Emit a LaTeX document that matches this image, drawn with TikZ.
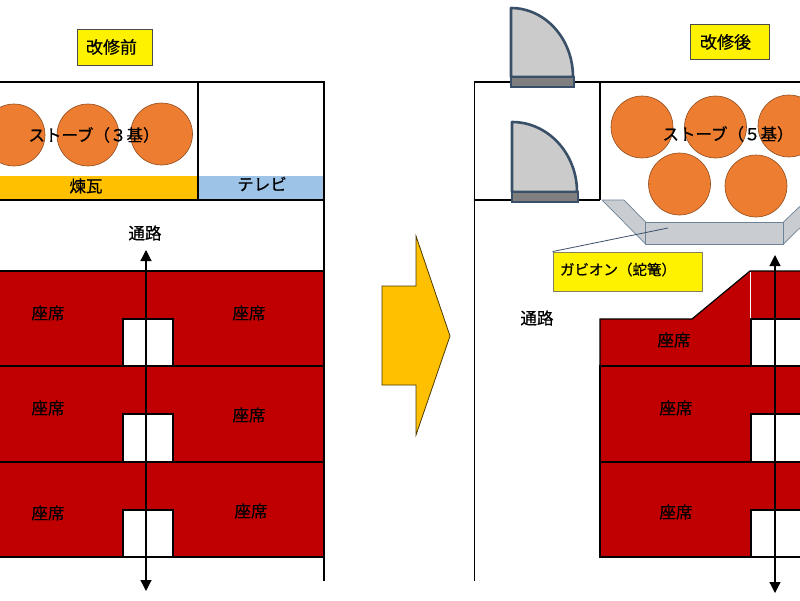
\documentclass[tikz,border=0pt]{standalone}
\usepackage{fontspec}
\setmainfont[FakeBold=0.6]{Noto Sans CJK JP}
\definecolor{seatred}{HTML}{C00000}
\definecolor{stove}{HTML}{ED7D31}
\definecolor{amber}{HTML}{FFC000}
\definecolor{tvblue}{HTML}{9DC3E6}
\definecolor{doorline}{HTML}{3A5068}
\definecolor{doorfill}{HTML}{CBCBCB}
\definecolor{doorbar}{HTML}{7F7F7F}
\definecolor{gabion}{HTML}{C9CDD2}
\definecolor{gabline}{HTML}{6C8296}
\tikzset{
  wall/.style={draw=black,line width=1.3pt},
  seat/.style={fill=seatred,draw=black,line width=1.2pt},
  gapbox/.style={fill=white,draw=black,line width=1.2pt},
  stovecirc/.style={circle,fill=stove,draw=stove!60!black,line width=0.6pt,minimum size=62pt,inner sep=0pt},
  tag/.style={fill=yellow,draw=black!70,line width=0.9pt,inner sep=0pt,font=\fontsize{17}{17}\selectfont},
  lab/.style={inner sep=0pt,font=\fontsize{16.5}{17}\selectfont},
  walk/.style={draw=black,line width=1.2pt,{Triangle[length=11pt,width=11pt]}-{Triangle[length=11pt,width=11pt]}},
  door/.style={fill=doorfill,draw=doorline,line width=2.6pt,line join=round},
  doorplate/.style={fill=doorbar,draw=doorline,line width=2.6pt},
  gab/.style={fill=gabion,draw=gabline,line width=0.7pt,line join=round}
}
\usetikzlibrary{arrows.meta}
\begin{document}
\begin{tikzpicture}[x=1pt,y=-1pt]
\useasboundingbox (0,0) rectangle (800,600);
\fill[white] (0,0) rectangle (800,600);
% ---- left: before
\fill[amber] (0,176) rectangle (198,200);
\fill[tvblue] (198,176) rectangle (324,200);
\draw[seat] (-5,271) rectangle (324,366);
\draw[seat] (-5,366) rectangle (324,462);
\draw[seat] (-5,462) rectangle (324,557);
\draw[gapbox] (123,319) rectangle (173,366);
\draw[gapbox] (123,414) rectangle (173,462);
\draw[gapbox] (123,510) rectangle (173,557);
\draw[wall] (-5,82) -- (324,82) -- (324,581);
\draw[wall] (198,82) -- (198,200);
\draw[wall] (-5,200) -- (324,200);
\node[stovecirc] (la) at (14,135) {};
\node[stovecirc] (lb) at (88,135) {};
\node[stovecirc] (lc) at (161.5,134) {};
\node[lab] (lstove) at (94,135) {ストーブ（３基）};
\node[lab] (brick) at (86,186) {煉瓦};
\node[lab] (tv) at (262,184) {テレビ};
\node[lab] (laisle) at (145,233) {通路};
\node[tag,minimum width=75pt,minimum height=36pt] (before) at (114.5,47) {\hspace*{-6pt}改修前};
\coordinate (lt) at (146,250);
\coordinate (lb2) at (146,591);
\draw[walk] (lt) -- (lb2);
\node[lab] at (48,313) {座席};
\node[lab] at (249,313) {座席};
\node[lab] at (48,408) {座席};
\node[lab] at (249,415) {座席};
\node[lab] at (48,513) {座席};
\node[lab] at (251,511) {座席};
% ---- big arrow
\draw[fill=amber,draw=black!70!amber,line width=0.8pt,line join=miter]
  (382,286) -- (416,286) -- (416,236) -- (450,336) -- (416,435) -- (416,385) -- (382,385) -- cycle;
% ---- right: after
\draw[seat] (600,319) -- (692,319) -- (750,271) -- (805,271) -- (805,366) -- (600,366) -- cycle;
\draw[white,line width=0.8pt] (750.5,272) -- (750.5,319);
\draw[seat] (600,366) rectangle (805,462);
\draw[seat] (600,462) -- (805,462) -- (805,557) -- (600,557) -- cycle;
\draw[gapbox] (751,319) rectangle (805,366);
\draw[gapbox] (751,414) rectangle (805,462);
\draw[gapbox] (751,510) rectangle (805,557);
\draw[wall] (474.5,581) -- (474.5,82) -- (805,82);
\draw[wall] (600,82) -- (600,200);
\draw[wall] (474.5,200) -- (600,200);
\node[stovecirc] (ra) at (642,127) {};
\node[stovecirc] (rb) at (715.5,127) {};
\node[stovecirc] (rc) at (789,126) {};
\node[stovecirc] (rd) at (679.5,184) {};
\node[stovecirc] (re) at (756,186) {};
\node[lab] (rstove) at (728,134) {ストーブ（５基）};
% gabion
\draw[gab] (602,200) -- (624,200) -- (645.5,222) -- (645.5,244) -- cycle;
\draw[gab] (783.5,222) -- (815,192) -- (815,213) -- (783.5,244) -- cycle;
\draw[gab] (645.5,222) rectangle (783.5,244);
\coordinate (gabpt) at (668,228);
\node[fill=yellow,draw=black!60!yellow!60!gray,line width=0.9pt,minimum width=149pt,minimum height=39pt,inner sep=0pt] (gabtag) at (627.5,271.5) {};
\node[lab,font=\fontsize{14.5}{15}\selectfont] at (618,269.5) {ガビオン（蛇篭）};
\draw[doorline,line width=0.8pt] (gabtag.north west) -- (gabpt);
% doors
\draw[door] (511,77) -- (511,8) arc[start angle=90,end angle=0,x radius=62pt,y radius=69pt] -- cycle;
\draw[doorplate] (511,77) rectangle (574,87);
\draw[door] (512,192) -- (512,122) arc[start angle=90,end angle=0,x radius=65pt,y radius=70pt] -- cycle;
\draw[doorplate] (512,192) rectangle (578,202);
\node[tag,minimum width=79pt,minimum height=35pt] (after) at (729.5,42) {\hspace*{-8pt}改修後};
\node[lab] (raisle) at (537,318) {通路};
\coordinate (rt) at (775,255);
\coordinate (rb2) at (775,593);
\draw[walk] (rt) -- (rb2);
\node[lab] at (674,340) {座席};
\node[lab] at (676,408) {座席};
\node[lab] at (676,512) {座席};
\end{tikzpicture}
\end{document}
